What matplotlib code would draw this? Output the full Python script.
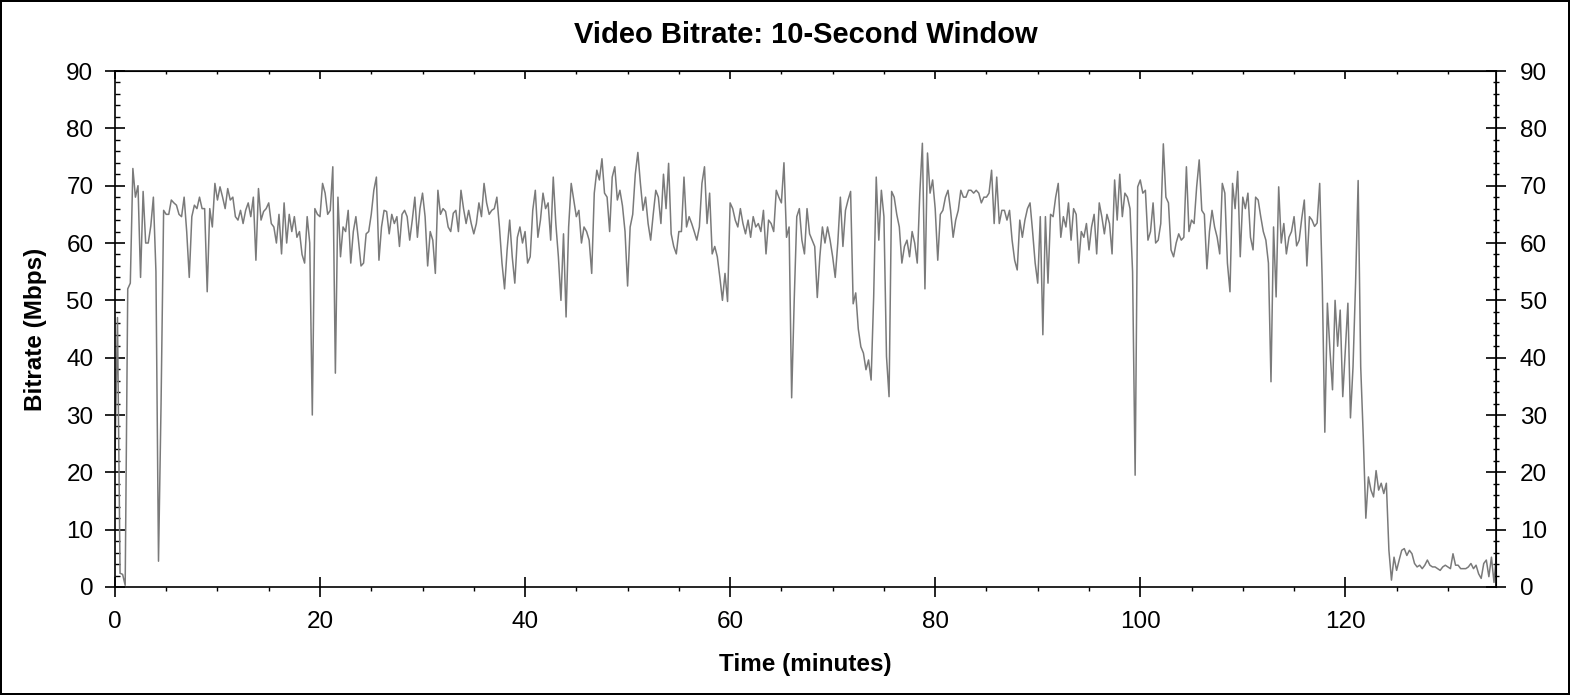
import numpy as np
import matplotlib
matplotlib.use('Agg')
import matplotlib.pyplot as plt
from matplotlib.ticker import MultipleLocator

plt.rcParams['font.family'] = ['Liberation Sans', 'DejaVu Sans']

# bitrate samples every 15 s (0.25 min), one list per 10 minutes
b00 = [22, 47, 2.4, 2.2, 0.3, 52, 53, 73, 68, 70,
       54, 69, 60, 60, 63, 68, 55, 4.5, 32, 65.7,
       65, 65, 67.5, 67, 66.6, 65, 64.6, 68, 62, 54,
       64.6, 66.6, 66, 68, 66, 66, 51.5, 66, 62.8, 70.4]
b10 = [67.5, 69.8, 68, 66, 69.5, 67.5, 68, 64.6, 64, 65.7,
       63.4, 65.7, 67, 64.6, 68, 57, 69.5, 64, 65.5, 66,
       67, 63.4, 62.8, 60, 65, 58.1, 67, 60, 65, 62,
       64.6, 61, 62, 58, 56.5, 64.6, 60, 30, 66, 65]
b20 = [64.6, 70.4, 68.7, 65, 65.7, 73.3, 37.3, 68, 57.6, 62.8,
       62, 65.7, 56.5, 62, 64.6, 60.5, 56, 56.5, 61.6, 62,
       65, 69.2, 71.5, 57, 62.8, 65.7, 65.5, 61.6, 65, 63.4,
       64.6, 59.4, 65, 65.7, 64.6, 60.5, 64, 68, 61, 66]
b30 = [68.7, 64.6, 56, 62, 60.5, 54.7, 69.2, 65, 66, 65.5,
       62.8, 62, 65.2, 65.7, 62, 69.2, 66, 63.4, 65.7, 63.4,
       61.6, 63.4, 67, 64.6, 70.4, 67, 65, 65.7, 66, 68,
       62.8, 56.5, 52, 58.8, 64, 57.6, 53, 61, 62.8, 60]
b40 = [62, 56.5, 57.6, 65.7, 69.2, 61, 64, 68.7, 66, 67,
       60.5, 71.5, 63.4, 57.6, 50, 61.6, 47.1, 62.8, 70.4, 67.5,
       64.6, 65.7, 60, 62.8, 62, 60.5, 54.7, 68.7, 72.7, 71,
       74.7, 68.7, 68, 62, 71.5, 73.3, 67.5, 69.2, 66.5, 62]
b50 = [52.5, 62.8, 65, 72, 75.8, 70.4, 65.7, 68, 63.4, 60.5,
       65, 69.2, 68, 63.4, 72, 66, 73.9, 61.6, 59.4, 58.1,
       62, 62, 71.5, 62.8, 64.6, 63.4, 62, 60.5, 62.8, 70.4,
       73.3, 63.4, 68.7, 58.1, 59.4, 57.6, 54, 50, 54.7, 49.8]
b60 = [67, 66, 64, 62.8, 66, 63.4, 61.6, 64, 61, 64.6,
       62.8, 63.4, 62, 65.7, 58.1, 64, 63.4, 62, 69.2, 68,
       67, 74, 61, 62.8, 33, 50, 64.6, 66, 60.5, 58.1,
       66, 61.6, 60.5, 59.4, 50.5, 57.6, 62.8, 60, 62.8, 60.5]
b70 = [57.6, 54, 60, 68, 59.4, 65.7, 67.5, 69, 49.4, 51.3,
       45, 41.9, 40.8, 37.9, 39.6, 36.1, 50.6, 71.5, 60.5, 69.2,
       64.6, 40.2, 33.2, 69, 68, 65, 62.8, 56.5, 59.4, 60.5,
       57.6, 62, 60, 56.5, 68.7, 77.4, 52, 75.7, 68.7, 71]
b80 = [66, 57, 65, 65.7, 68, 69.2, 65.7, 61, 64, 65.7,
       69.2, 68, 68, 69.2, 69.2, 68.7, 69.2, 68.7, 67, 68,
       68, 68.7, 72.7, 63.4, 71.5, 63.4, 65.7, 65.7, 64, 65.7,
       60.5, 57, 55.3, 64, 61, 64, 66, 67, 62, 56.5]
b90 = [53, 64.6, 44, 64.6, 53, 65, 64.6, 68, 70.4, 61,
       64.6, 62.8, 67, 60.5, 66, 65, 56.5, 62, 61, 63.4,
       58.8, 62.8, 65, 58.1, 67, 64.6, 61.6, 65, 63.4, 58.1,
       71, 64, 72, 64.6, 68.7, 68, 66, 55, 19.5, 69.8]
b100 = [71, 68.7, 69.2, 60.5, 62, 67, 60, 60.5, 63.4, 77.3,
        68, 67, 58.8, 57.6, 60, 61.6, 60.5, 61, 73.3, 62,
        64, 63.4, 69.8, 74.5, 65.7, 65, 55.5, 62, 65.7, 62.8,
        61, 58.1, 70.4, 68.7, 56.5, 51.5, 70.4, 66, 72.5, 57.6]
b110 = [68, 66, 68.7, 61, 58.8, 68, 67.5, 64.6, 62, 60.5,
        56.5, 35.8, 62.8, 50.6, 69.8, 60, 63.4, 58.1, 61, 62,
        64.6, 59.5, 60.5, 64.3, 67.5, 56, 64.6, 64, 62.9, 63.5,
        70.4, 53, 27, 49.5, 41.3, 34.4, 50, 42, 48.3, 33.2]
b120 = [41.3, 49.5, 29.5, 38.4, 53, 70.9, 38.4, 26.2, 12, 19.2,
        16.9, 15.7, 20.3, 16.9, 18.1, 16.3, 18.1, 6.4, 1.2, 5.2,
        2.9, 4.7, 6.4, 6.7, 5.5, 6.4, 5.8, 4.1, 3.5, 3.8,
        3.2, 3.8, 4.7, 3.8, 3.5, 3.5, 3.2, 2.9, 3.5, 3.8]
b130 = [3.5, 3.2, 5.8, 3.8, 3.8, 3.2, 3.2, 3.2, 3.5, 4.1,
        3.2, 3.8, 2.3, 1.5, 4.1, 4.7, 1.8, 5.2, 0.8, 6.0]

bitrate = b00 + b10 + b20 + b30 + b40 + b50 + b60 + b70 + b80 + b90 + b100 + b110 + b120 + b130
step_min = 0.25
minutes = np.arange(len(bitrate)) * step_min

fig = plt.figure(figsize=(15.7, 6.95), dpi=100, linewidth=1.5, edgecolor='black')
ax = fig.add_axes([0.0732, 0.1554, 0.8797, 0.7424])

ax.plot(minutes, bitrate, color='#7a7a7a', lw=1.1)

ax.set_xlim(0, 134.7)
ax.set_ylim(0, 90)
ax.xaxis.set_major_locator(MultipleLocator(20))
ax.xaxis.set_minor_locator(MultipleLocator(5))
ax.yaxis.set_major_locator(MultipleLocator(10))
ax.yaxis.set_minor_locator(MultipleLocator(2))

ax.tick_params(axis='y', which='major', direction='inout', length=14, width=1.2,
               labelsize=17.5, pad=8.5)
ax.tick_params(axis='y', which='minor', direction='in', length=3.5, width=1.0)
ax.tick_params(axis='x', which='major', direction='inout', length=14, width=1.2,
               labelsize=17.5, pad=10)
ax.tick_params(axis='x', which='minor', direction='out', length=3, width=1.0)

top = ax.secondary_xaxis('top')
top.xaxis.set_major_locator(MultipleLocator(20))
top.xaxis.set_minor_locator(MultipleLocator(5))
top.tick_params(which='major', direction='in', length=6, width=1.2, labeltop=False)
top.tick_params(which='minor', direction='in', length=2.5, width=1.0)

right = ax.secondary_yaxis('right')
right.yaxis.set_major_locator(MultipleLocator(10))
right.yaxis.set_minor_locator(MultipleLocator(2))
right.tick_params(which='major', direction='inout', length=14, width=1.2,
                  labelsize=17.5, pad=10)
right.tick_params(which='minor', direction='inout', length=5, width=1.0)

for sp in ax.spines.values():
    sp.set_linewidth(1.2)

ax.set_title('Video Bitrate: 10-Second Window', fontsize=21, fontweight='bold', pad=20.5)
ax.set_xlabel('Time (minutes)', fontsize=17.5, fontweight='bold', labelpad=15)
ax.set_ylabel('Bitrate (Mbps)', fontsize=17.5, fontweight='bold', labelpad=14)

fig.savefig('out.png', dpi=100)
